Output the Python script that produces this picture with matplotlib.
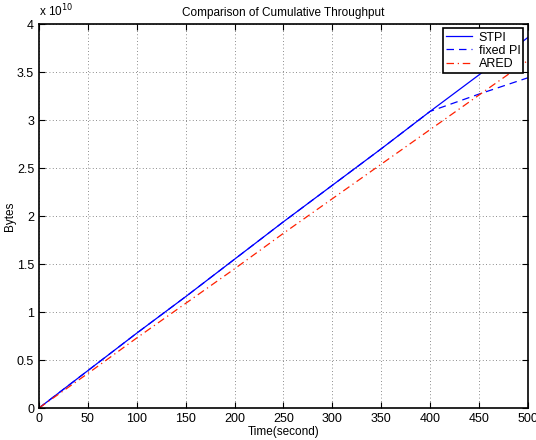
import matplotlib
matplotlib.use("Agg")
import matplotlib.pyplot as plt

# time (s) and cumulative bytes, in units of 1e10
t = [0, 50, 100, 150, 200, 250, 300, 350, 400, 450, 500]
stpi = [0, 0.39, 0.78, 1.16, 1.55, 1.94, 2.32, 2.70, 3.09, 3.47, 3.86]
fixed_pi = [0, 0.39, 0.78, 1.16, 1.55, 1.94, 2.32, 2.70, 3.09, 3.27, 3.44]
ared = [0, 0.36, 0.73, 1.09, 1.45, 1.82, 2.18, 2.54, 2.90, 3.26, 3.62]

plt.rcParams['font.family'] = ['Liberation Sans', 'DejaVu Sans']
plt.rcParams['font.size'] = 8.5

fig = plt.figure(figsize=(5.36, 4.40), dpi=100)
ax = fig.add_axes([0.0728, 0.0727, 0.912, 0.8727])

ax.plot(t, stpi, color='#0000ff', linestyle='-', linewidth=0.9, label='STPI')
ax.plot(t, fixed_pi, color='#0000ff', linestyle=(0, (6, 4)), linewidth=0.9, label='fixed PI')
ax.plot(t, ared, color='#ff2000', linestyle=(0, (6, 3, 1, 3)), linewidth=0.9, label='ARED')

ax.set_xlim(0, 500)
ax.set_ylim(0, 4)
ax.set_xticks(range(0, 501, 50))
ax.set_yticks([0, 0.5, 1, 1.5, 2, 2.5, 3, 3.5, 4])
ax.set_yticklabels(['0', '0.5', '1', '1.5', '2', '2.5', '3', '3.5', '4'])
ax.tick_params(direction='in', length=4, width=0.8, top=True, right=True, labelsize=9)
ax.grid(True, linestyle=(0, (1, 3)), color='black', linewidth=0.6, alpha=0.6)
for s in ax.spines.values():
    s.set_linewidth(1.2)

ax.set_title('Comparison of Cumulative Throughput', fontsize=8.5, pad=6)
ax.set_xlabel('Time(second)', fontsize=8.5, labelpad=1)
ax.set_ylabel('Bytes', fontsize=8.5, labelpad=1)
ax.text(0.0, 1.012, r'x 10$^{10}$', transform=ax.transAxes, fontsize=8.5, ha='left', va='bottom')

leg = ax.legend(loc='upper right', fontsize=9, fancybox=False, framealpha=1,
                edgecolor='black', borderpad=0.25, handlelength=2.1, labelspacing=0.1,
                borderaxespad=0.35, handletextpad=0.5)
leg.get_frame().set_linewidth(1.2)

fig.savefig('out.png', dpi=100)
